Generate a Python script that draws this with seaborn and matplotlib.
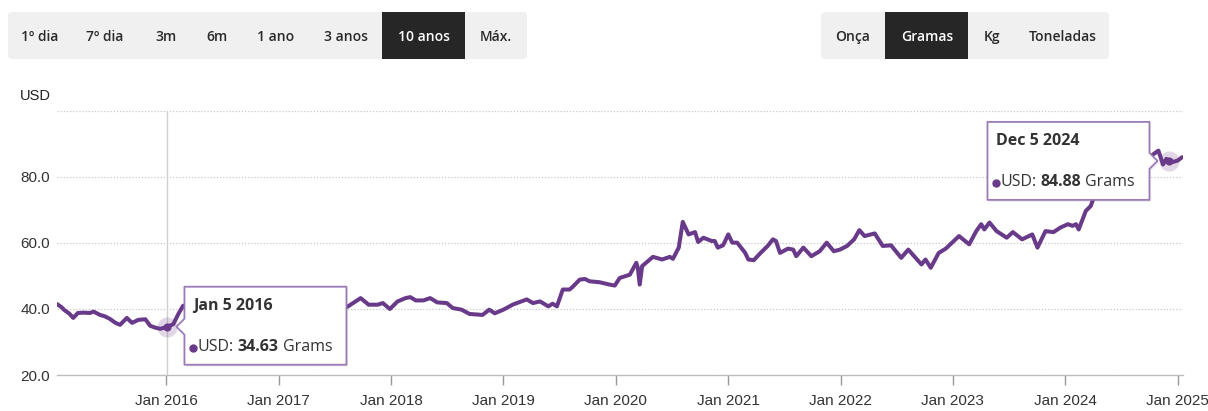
import pandas as pd
import matplotlib
matplotlib.use("Agg")
import matplotlib.pyplot as plt
import matplotlib.dates as mdates
from matplotlib.patches import FancyBboxPatch, Polygon, Rectangle
import seaborn as sns

# gold price, USD per gram
dates = [
    "2015-01-11", "2015-01-25", "2015-02-05", "2015-02-20", "2015-03-05", "2015-03-20",
    "2015-04-06", "2015-04-28", "2015-05-10", "2015-05-31", "2015-06-15", "2015-07-02",
    "2015-07-20", "2015-08-04", "2015-08-26", "2015-09-12", "2015-10-02", "2015-10-25",
    "2015-11-10", "2015-11-28", "2015-12-13", "2015-12-28", "2016-01-05", "2016-01-24",
    "2016-02-10", "2016-02-25", "2016-03-20", "2016-04-15", "2016-05-05", "2016-06-01",
    "2016-07-05", "2016-08-01", "2016-09-01", "2016-10-05", "2016-11-01", "2016-12-01",
    "2016-12-20", "2017-01-15", "2017-02-20", "2017-03-15", "2017-04-15", "2017-05-10",
    "2017-06-06", "2017-07-10", "2017-08-14", "2017-09-24", "2017-10-20", "2017-11-18",
    "2017-12-05", "2017-12-28", "2018-01-22", "2018-02-17", "2018-03-04", "2018-03-22",
    "2018-04-16", "2018-05-08", "2018-05-31", "2018-07-01", "2018-07-20", "2018-08-18",
    "2018-09-13", "2018-10-25", "2018-11-16", "2018-12-04", "2019-01-01", "2019-02-02",
    "2019-03-18", "2019-04-07", "2019-04-30", "2019-05-27", "2019-06-10", "2019-06-24",
    "2019-07-13", "2019-08-04", "2019-08-14", "2019-09-06", "2019-09-23", "2019-10-08",
    "2019-11-10", "2019-12-12", "2019-12-29", "2020-01-14", "2020-02-16", "2020-03-08",
    "2020-03-13", "2020-03-19", "2020-03-27", "2020-05-01", "2020-05-31", "2020-06-25",
    "2020-07-05", "2020-07-24", "2020-08-06", "2020-08-25", "2020-09-15", "2020-09-25",
    "2020-10-12", "2020-11-08", "2020-11-18", "2020-11-28", "2020-12-15", "2021-01-01",
    "2021-01-14", "2021-01-30", "2021-02-25", "2021-03-07", "2021-03-25", "2021-04-16",
    "2021-05-09", "2021-05-26", "2021-06-05", "2021-06-18", "2021-07-14", "2021-07-31",
    "2021-08-10", "2021-09-02", "2021-09-28", "2021-10-25", "2021-11-17", "2021-12-10",
    "2021-12-30", "2022-01-22", "2022-02-14", "2022-03-03", "2022-03-20", "2022-04-22",
    "2022-05-18", "2022-06-14", "2022-07-17", "2022-08-09", "2022-09-21", "2022-10-04",
    "2022-10-21", "2022-11-16", "2022-12-09", "2023-01-21", "2023-02-23", "2023-03-18",
    "2023-04-03", "2023-04-13", "2023-04-30", "2023-05-23", "2023-06-25", "2023-07-15",
    "2023-08-14", "2023-09-16", "2023-10-03", "2023-10-29", "2023-11-24", "2023-12-17",
    "2024-01-10", "2024-01-25", "2024-02-05", "2024-02-14", "2024-03-08", "2024-03-24",
    "2024-04-12", "2024-05-01", "2024-05-20", "2024-06-15", "2024-07-17", "2024-08-05",
    "2024-08-20", "2024-09-20", "2024-10-08", "2024-10-30", "2024-11-14", "2024-11-25",
    "2024-12-05", "2024-12-18", "2025-01-01", "2025-01-15",
]
prices = [
    41.5, 40.6, 39.6, 38.6, 37.3, 38.8,
    38.9, 38.8, 39.2, 38.2, 37.8, 37.0,
    35.8, 35.2, 37.3, 35.8, 36.7, 36.9,
    34.9, 34.3, 34.0, 34.4, 34.63, 35.4,
    38.6, 41.0, 40.0, 40.2, 41.3, 39.0,
    43.4, 43.3, 42.0, 40.8, 41.0, 37.5,
    36.4, 38.3, 40.2, 38.8, 41.1, 39.3,
    41.5, 39.3, 40.8, 43.3, 41.3, 41.3,
    41.8, 40.0, 42.3, 43.3, 43.6, 42.6,
    42.6, 43.3, 42.0, 41.8, 40.3, 39.8,
    38.5, 38.2, 39.8, 38.7, 39.8, 41.4,
    42.9, 41.8, 42.3, 40.8, 41.6, 40.8,
    45.9, 45.9, 46.7, 48.9, 49.1, 48.4,
    48.1, 47.4, 47.1, 49.4, 50.4, 54.0,
    52.5, 47.4, 53.0, 55.8, 55.0, 55.8,
    55.2, 58.6, 66.4, 62.6, 63.3, 60.3,
    61.6, 60.6, 60.6, 58.6, 59.3, 62.6,
    60.1, 60.1, 57.0, 55.0, 54.8, 57.0,
    59.1, 61.1, 60.6, 57.0, 58.3, 58.0,
    56.0, 58.6, 56.0, 57.5, 60.1, 57.5,
    58.0, 59.1, 61.1, 63.9, 62.1, 62.9,
    59.1, 59.3, 55.5, 58.0, 53.5, 55.0,
    52.5, 57.0, 58.3, 62.1, 59.6, 63.6,
    65.7, 64.1, 66.2, 63.6, 61.6, 63.3,
    61.1, 62.6, 58.6, 63.6, 63.3, 64.7,
    65.7, 65.2, 65.7, 64.1, 69.7, 71.2,
    76.0, 74.2, 78.5, 74.8, 79.0, 77.5,
    80.8, 83.5, 86.5, 88.0, 83.8, 85.5,
    84.88, 84.6, 85.0, 86.0,
]

periods = ["1º dia", "7º dia", "3m", "6m", "1 ano", "3 anos", "10 anos", "Máx."]
period_sel = "10 anos"
units = ["Onça", "Gramas", "Kg", "Toneladas"]
unit_sel = "Gramas"

y_ticks = [20, 40, 60, 80, 100]
y_labels = ["20.0", "40.0", "60.0", "80.0", ""]
x_years = list(range(2016, 2026))

hl_dates = ["2016-01-05", "2024-12-05"]
hl_titles = ["Jan 5 2016", "Dec 5 2024"]
hl_values = [34.63, 84.88]

PURPLE = "#6a3a8a"
BORDER = "#9a7bb8"
OPEN = ["Open Sans", "DejaVu Sans"]
W, H = 1208, 411

sns.set_style("white")
plt.rcParams["font.family"] = ["Liberation Sans", "DejaVu Sans"]

fig = plt.figure(figsize=(W / 100, H / 100), dpi=100)
ax = fig.add_axes([57 / W, 1 - 375 / H, 1126 / W, 264 / H])

df = pd.DataFrame({"date": pd.to_datetime(dates), "price": prices})
sns.lineplot(data=df, x="date", y="price", ax=ax, color=PURPLE, linewidth=2.9, zorder=3)

ax.set_xlim(pd.Timestamp("2015-01-11"), pd.Timestamp("2025-01-18"))
ax.set_ylim(20, 100)
ax.set_yticks(y_ticks)
ax.set_yticklabels(y_labels)
ax.set_xticks([pd.Timestamp(f"{y}-01-01") for y in x_years])
ax.set_xticklabels([f"Jan {y}" for y in x_years])
ax.grid(axis="y", color="#c8c8c8", linestyle=(0, (1, 1.5)), linewidth=0.9)
ax.grid(axis="x", visible=False)
for s in ["top", "right", "left"]:
    ax.spines[s].set_visible(False)
ax.spines["bottom"].set_color("#bdbdbd")
ax.spines["bottom"].set_linewidth(1.0)
ax.tick_params(axis="y", length=0, pad=5, labelsize=11, labelcolor="#333333")
ax.tick_params(axis="x", length=7, width=1, color="#999999", pad=7,
               labelsize=11, labelcolor="#333333", bottom=True)
ax.set_xlabel("")
ax.set_ylabel("")

# crosshair and highlighted points
hl_ts = pd.to_datetime(hl_dates)
ax.axvline(hl_ts[0], color="#d0d0d0", linewidth=1, zorder=1)
ax.scatter(hl_ts, hl_values, s=210, color=PURPLE, alpha=0.2, linewidths=0, zorder=4)
ax.scatter(hl_ts, hl_values, s=34, color=PURPLE, linewidths=0, zorder=5)

fig.text(20 / W, 1 - 96 / H, "USD", fontsize=10.5, color="#222222", va="center")

# overlay in pixel coordinates for the UI parts
ui = fig.add_axes([0, 0, 1, 1], zorder=10)
ui.set_xlim(0, W)
ui.set_ylim(H, 0)
ui.axis("off")
ui.patch.set_alpha(0)


def button_bar(x0, x1, labels, centers, selected, sel_span):
    ui.add_patch(FancyBboxPatch((x0, 12), x1 - x0, 47,
                                boxstyle="round,pad=0,rounding_size=4",
                                fc="#f0f0f0", ec="none"))
    ui.add_patch(Rectangle((sel_span[0], 12), sel_span[1] - sel_span[0], 47,
                           fc="#262626", ec="none"))
    for lab, cx in zip(labels, centers):
        ui.text(cx, 37, lab, ha="center", va="center", fontsize=10,
                family=OPEN, weight="semibold",
                color="white" if lab == selected else "#2a2a2a")


button_bar(8, 527, periods, [40, 105, 166, 217, 276, 346, 424, 496],
           period_sel, (382, 465))
button_bar(821, 1109, units, [853, 927, 992, 1063], unit_sel, (885, 968))

renderer = fig.canvas.get_renderer()


def tooltip(idx, side):
    px, py = ax.transData.transform((mdates.date2num(hl_ts[idx]), hl_values[idx]))
    py = H - py
    bw, bh = 162, 78
    if side == "left":
        x0 = px + 17
        y0 = py - 40
        tip = px + 9
        pts = [(x0, y0), (x0 + bw, y0), (x0 + bw, y0 + bh), (x0, y0 + bh),
               (x0, py + 8), (tip, py), (x0, py - 8)]
    else:
        x0 = px - 20 - bw
        y0 = py - 39
        tip = px - 12
        xr = x0 + bw
        pts = [(x0, y0), (xr, y0), (xr, py - 8), (tip, py), (xr, py + 8),
               (xr, y0 + bh), (x0, y0 + bh)]
    ui.add_patch(Polygon([(x + 1.5, y + 2) for x, y in pts], closed=True,
                         fc="black", alpha=0.07, ec="none"))
    ui.add_patch(Polygon(pts, closed=True, fc="white", ec=BORDER, lw=1.3,
                         joinstyle="round"))
    ui.text(x0 + 9, y0 + 19, hl_titles[idx], fontsize=11.5, weight="bold",
            family=OPEN, color="#333333", va="center")
    ly = y0 + 60
    ui.plot([x0 + 9], [ly + 1], marker="o", ms=5, color=PURPLE, ls="none")
    cx = x0 + 13
    for txt, wt, gap in [("USD:", "normal", 4), (f"{hl_values[idx]:.2f}", "bold", 4),
                         ("Grams", "normal", 0)]:
        t = ui.text(cx, ly, txt, fontsize=11.5, weight=wt, family=OPEN,
                    color="#333333", va="center")
        cx += t.get_window_extent(renderer).width + gap


tooltip(0, "left")
tooltip(1, "right")

fig.savefig("out.png", dpi=100)
